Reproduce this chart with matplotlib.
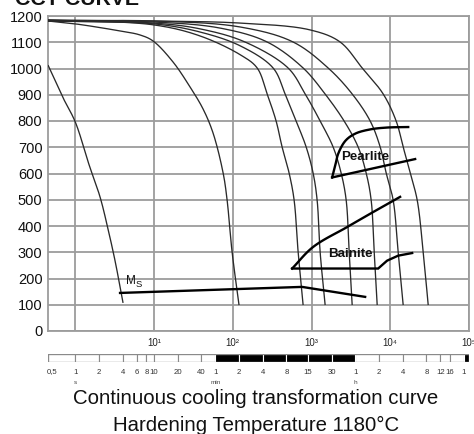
import numpy as np
import matplotlib
matplotlib.use("Agg")
import matplotlib.pyplot as plt
from matplotlib.patches import Rectangle
from matplotlib import font_manager

# ---------------- data ----------------
temp_ticks = list(range(0, 1300, 100))
grid_decades = [1, 10, 100, 1000, 10000, 100000]
decade_labels = ["", "10¹", "10²", "10³", "10⁴", "10⁵"]

c1_t = [0.45, 0.7, 1.0, 1.5, 2.06, 2.6, 3.2, 4.04]
c1_T = [1013, 888, 796, 632, 511, 389, 267, 107]

c2_t = [0.45, 1.0, 3.7, 6.6, 9.7, 17.4, 28.6, 41.9, 56.2, 75.4, 84.7, 98, 120]
c2_T = [1181, 1170, 1143, 1128, 1105, 1025, 930, 846, 754, 602, 499, 301, 99]

c3_t = [0.45, 10, 38.4, 125, 204, 273, 355, 423, 519, 601, 676, 782]
c3_T = [1185, 1166, 1124, 1052, 1002, 903, 800, 701, 602, 499, 301, 99]

c4_t = [0.45, 10, 38.4, 125, 325, 462, 637, 855, 1047, 1178, 1286, 1489]
c4_T = [1181, 1170, 1139, 1086, 1002, 903, 800, 701, 602, 499, 301, 99]

c5_t = [0.45, 10, 38.4, 143, 504, 830, 1286, 1880, 2377, 2754, 3006, 3283]
c5_T = [1181, 1173, 1151, 1101, 1002, 903, 800, 701, 602, 499, 301, 99]

c6_t = [0.45, 10, 69, 273, 782, 1486, 2594, 3908, 4943, 5719, 6250, 6823]
c6_T = [1181, 1177, 1154, 1101, 1002, 903, 800, 701, 602, 499, 301, 99]

c7_t = [0.45, 10, 125, 583, 1625, 3283, 5559, 7449, 8873, 10880, 12600, 14590]
c7_T = [1181, 1181, 1158, 1101, 1002, 903, 800, 701, 602, 499, 301, 99]

c8_t = [0.45, 10, 125, 960, 2307, 4395, 8130, 11880, 14590, 17900, 21980, 26200, 30330]
c8_T = [1185, 1181, 1173, 1147, 1101, 1002, 903, 800, 701, 602, 499, 301, 99]

pearlite_start_t = [1828, 2000, 2180, 2700, 3600, 5560, 9000, 16900]
pearlite_start_T = [585, 630, 675, 725, 752, 768, 775, 777]
pearlite_end_t = [1828, 20700]
pearlite_end_T = [585, 655]

bainite_start_t = [567, 1047, 2832, 6055, 13340]
bainite_start_T = [238, 320, 396, 453, 511]
bainite_end_t = [567, 7020, 9120, 12600, 18970]
bainite_end_T = [238, 238, 268, 287, 297]

ms_t = [3.7, 759, 4797]
ms_T = [145, 168, 130]

bar_edges = [0.45, 1, 2, 4, 6, 8, 10, 20, 40, 60, 120, 240, 480, 900, 1800,
             3600, 7200, 14400, 28800, 43200, 57600, 86400, 100000]
bar_black_ranges = [(60, 3600), (86400, 100000)]
bar_label_pos = [0.5, 1, 2, 4, 6, 8, 10, 20, 40, 60, 120, 240, 480, 900, 1800,
                 3600, 7200, 14400, 28800, 43200, 57600, 86400]
bar_labels = ["0,5", "1", "2", "4", "6", "8", "10", "20", "40", "1", "2", "4",
              "8", "15", "30", "1", "2", "4", "8", "12", "16", "1"]
unit_pos = [1, 60, 3600]
unit_labels = ["s", "min", "h"]

XMIN, XMAX = 0.45, 1e5

# ---------------- helpers ----------------
SX, SY = 78.7, 1 / 3.81   # approximate pixels per decade / per degree (for smoothing only)

def smooth(t, T, n=30, alpha=0.5):
    """Centripetal Catmull-Rom through the given points (in log-time space)."""
    x = np.log10(np.asarray(t, float)) * SX
    y = np.asarray(T, float) * SY
    pts = np.column_stack([x, y])
    if len(pts) < 3:
        return np.asarray(t, float), np.asarray(T, float)
    P = np.vstack([2 * pts[0] - pts[1], pts, 2 * pts[-1] - pts[-2]])
    out = []
    for i in range(1, len(P) - 2):
        p0, p1, p2, p3 = P[i - 1], P[i], P[i + 1], P[i + 2]
        t0 = 0.0
        t1 = t0 + max(np.linalg.norm(p1 - p0), 1e-6) ** alpha
        t2 = t1 + max(np.linalg.norm(p2 - p1), 1e-6) ** alpha
        t3 = t2 + max(np.linalg.norm(p3 - p2), 1e-6) ** alpha
        u = np.linspace(t1, t2, n, endpoint=False)[:, None]
        A1 = (t1 - u) / (t1 - t0) * p0 + (u - t0) / (t1 - t0) * p1
        A2 = (t2 - u) / (t2 - t1) * p1 + (u - t1) / (t2 - t1) * p2
        A3 = (t3 - u) / (t3 - t2) * p2 + (u - t2) / (t3 - t2) * p3
        B1 = (t2 - u) / (t2 - t0) * A1 + (u - t0) / (t2 - t0) * A2
        B2 = (t3 - u) / (t3 - t1) * A2 + (u - t1) / (t3 - t1) * A3
        C = (t2 - u) / (t2 - t1) * B1 + (u - t1) / (t2 - t1) * B2
        out.append(C)
    out.append(pts[-1:])
    arr = np.vstack(out)
    return 10 ** (arr[:, 0] / SX), arr[:, 1] / SY

names = {f.name for f in font_manager.fontManager.ttflist}
BASE = ["Liberation Sans", "DejaVu Sans"]
NARROW = "Liberation Sans Narrow" if "Liberation Sans Narrow" in names else "Liberation Sans"
label_size = 11 if NARROW == "Liberation Sans Narrow" else 9.6

plt.rcParams["font.family"] = BASE

# ---------------- figure ----------------
W, H = 474, 434
fig = plt.figure(figsize=(W / 100, H / 100), dpi=100)

def px_axes(l, t, r, b):
    return fig.add_axes([l / W, 1 - b / H, (r - l) / W, (b - t) / H])

ax = px_axes(48, 16, 469, 331)
ax.set_xscale("log")
ax.set_xlim(XMIN, XMAX)
ax.set_ylim(0, 1200)

gcol = "#9c9c9c"
for T in temp_ticks:
    ax.axhline(T, color=gcol, lw=1.3, zorder=1)
for d in grid_decades:
    ax.axvline(d, color=gcol, lw=1.3, zorder=1)
for sp in ax.spines.values():
    sp.set_color(gcol)
    sp.set_linewidth(1.3)

ax.set_yticks(temp_ticks)
ax.set_yticklabels([str(v) for v in temp_ticks], fontsize=10.5, color="#111111")
ax.set_xticks(grid_decades)
ax.set_xticklabels(decade_labels, fontsize=7, color="#222222")
ax.minorticks_off()
ax.tick_params(axis="y", length=0, pad=4)
ax.tick_params(axis="x", length=0, pad=5)

curves = [(c1_t, c1_T), (c2_t, c2_T), (c3_t, c3_T), (c4_t, c4_T),
          (c5_t, c5_T), (c6_t, c6_T), (c7_t, c7_T), (c8_t, c8_T)]
for t, T in curves:
    xs, ys = smooth(t, T)
    ax.plot(xs, ys, color="#2a2a2a", lw=0.95, zorder=3, solid_capstyle="butt")

xs, ys = smooth(pearlite_start_t, pearlite_start_T)
ax.plot(xs, ys, color="black", lw=1.7, zorder=4)
ax.plot(pearlite_end_t, pearlite_end_T, color="black", lw=1.7, zorder=4)
xs, ys = smooth(bainite_start_t, bainite_start_T)
ax.plot(xs, ys, color="black", lw=1.7, zorder=4)
ax.plot(bainite_end_t, bainite_end_T, color="black", lw=1.7, zorder=4,
        solid_joinstyle="miter")
ax.plot(ms_t, ms_T, color="black", lw=1.7, zorder=4)

ax.text(4800, 663, "Pearlite", family=[NARROW, "DejaVu Sans"], fontweight="bold",
        fontsize=label_size, ha="center", va="center", zorder=5, color="#111111")
ax.text(3097, 293, "Bainite", family=[NARROW, "DejaVu Sans"], fontweight="bold",
        fontsize=label_size, ha="center", va="center", zorder=5, color="#111111")
ax.text(4.4, 190, "M", fontsize=8.5, ha="left", va="center", zorder=5, color="#111111")
ax.text(5.9, 178, "S", fontsize=6.8, ha="left", va="center", zorder=5, color="#111111")

# ---------------- time bar ----------------
bx = px_axes(48, 354, 469, 362)
bx.set_xscale("log")
bx.set_xlim(XMIN, XMAX)
bx.set_ylim(0, 1)
bx.axis("off")
for a, b in zip(bar_edges[:-1], bar_edges[1:]):
    black = any(lo <= a and b <= hi for lo, hi in bar_black_ranges)
    bx.add_patch(Rectangle((a, 0), b - a, 1,
                           facecolor="black" if black else "white",
                           edgecolor="white" if black else "#8a8a8a",
                           lw=0.8, zorder=2 if black else 1))
bx.add_patch(Rectangle((XMIN, 0), XMAX - XMIN, 1, facecolor="none",
                       edgecolor="#8a8a8a", lw=0.9, zorder=3))
for p, lab in zip(bar_label_pos, bar_labels):
    bx.text(p, -1.25, lab, fontsize=5.6, ha="center", va="center", color="#333333")
for p, lab in zip(unit_pos, unit_labels):
    bx.text(p, -2.5, lab, fontsize=4.6, ha="center", va="center", color="#444444")

# ---------------- captions ----------------
fig.text(256 / W, 1 - 399 / H, "Continuous cooling transformation curve",
         ha="center", va="center", fontsize=14.7, color="#111111")
fig.text(256 / W, 1 - 425 / H, "Hardening Temperature 1180°C",
         ha="center", va="center", fontsize=14.7, color="#111111")
fig.text(15 / W, 1 - 5 / H, "CCT CURVE", ha="left", va="baseline",
         fontsize=15.4, fontweight="bold", color="#111111")

fig.savefig("out.png", dpi=100)
